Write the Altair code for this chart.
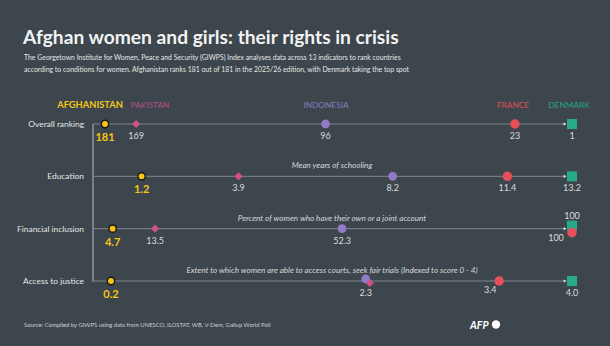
import altair as alt
import pandas as pd

# ---------------- data ----------------
countries = ["Afghanistan", "Pakistan", "Indonesia", "France", "Denmark"]
metrics = ["Overall ranking", "Education", "Financial inclusion", "Access to justice"]
overall = [181, 169, 96, 23, 1]
education = [1.2, 3.9, 8.2, 11.4, 13.2]
financial = [4.7, 13.5, 52.3, 100, 100]
justice = [0.2, 2.3, 2.3, 3.4, 4.0]
row_notes = ["", "Mean years of schooling",
             "Percent of women who have their own or a joint account",
             "Extent to which women are able to access courts, seek fair trials (Indexed to score 0 - 4)"]

colors = ["#f5c518", "#d44f8c", "#8f7cc4", "#e84f5a", "#27a98a"]
shapes = ["circle", "diamond", "circle", "circle", "square"]
sizes = [55, 100, 45, 55, 50]
header_colors = ["#f5c518", "#b94f88", "#8a7dc2", "#e0505c", "#27a38a"]

BG = "#3c464c"
FONT = "Lato"

rows = []
for m, vals in zip(metrics, [overall, education, financial, justice]):
    for c, v in zip(countries, vals):
        if m == "Overall ranking":
            lab = str(int(v))
        elif m == "Financial inclusion":
            lab = f"{v:g}"
        else:
            lab = f"{v:.1f}"
        rows.append({"metric": m, "country": c, "value": v, "label": lab})
df = pd.DataFrame(rows)
mdf = pd.DataFrame({"metric": metrics, "note": row_notes})

yenc = alt.Y("metric:N", scale=alt.Scale(type="point", domain=metrics, range=[124, 281], padding=0), axis=None)
color = alt.Color("country:N", scale=alt.Scale(domain=countries, range=colors), legend=None)
shape = alt.Shape("country:N", scale=alt.Scale(domain=countries, range=shapes), legend=None)
size = alt.Size("country:N", scale=alt.Scale(domain=countries, range=sizes), legend=None)

# pixel ranges for each row's own scale
row_scales = {
    "Overall ranking": alt.Scale(domain=[181, 1], range=[105, 572]),
    "Education": alt.Scale(domain=[0, 13.2], range=[98.6, 572]),
    "Financial inclusion": alt.Scale(domain=[0, 100], range=[90, 572]),
    "Access to justice": alt.Scale(domain=[0, 4], range=[86.7, 572]),
}

base = alt.Chart(df)

lines = alt.Chart(mdf).mark_rule(color="#7d8589", strokeWidth=1).encode(
    y=yenc, x=alt.value(93), x2=alt.value(566))
vline = alt.Chart(mdf).mark_rule(color="#7d8589", strokeWidth=1).encode(
    x=alt.value(93), y=alt.value(124), y2=alt.value(281.5))
arrows = alt.Chart(mdf).mark_point(shape="triangle-right", filled=True, color="#e8e8e8", size=10, opacity=1).encode(
    y=yenc, x=alt.value(565))
row_labels = alt.Chart(mdf).mark_text(align="right", baseline="middle", font=FONT, fontSize=8.4, color="#e6e6e6").encode(
    y=yenc, x=alt.value(84), text="metric:N")
notes = alt.Chart(mdf).mark_text(align="center", baseline="middle", font=FONT, fontStyle="italic", fontSize=8.1,
                                 color="#d8d8d8", dy=-10).encode(
    y=yenc, x=alt.value(332), text="note:N")

STROKE_W = alt.condition("datum.country == 'Afghanistan'", alt.value(1.5), alt.value(0))


def pts_layer(d, x, flt, **mk):
    return d.transform_filter(flt).mark_point(filled=True, opacity=1, stroke="#1a1a1a", **mk).encode(
        x=x, y=yenc, color=color, shape=shape, size=size, strokeWidth=STROKE_W)


def lab_layer(d, x, flt, afg=False, **mk):
    if afg:
        style = dict(font=FONT, fontWeight="bold", fontSize=11, color="#f5c518")
    else:
        style = dict(font=FONT, fontSize=9, color="#dcdcdc")
    style.update(mk)
    return d.transform_filter(flt).mark_text(**style).encode(x=x, y=yenc, text="label:N")


AFG = "datum.country == 'Afghanistan'"


def row_layer(m):
    sc = row_scales[m]
    d = base.transform_filter(alt.datum.metric == m)
    x = alt.X("value:Q", scale=sc, axis=None)
    if m == "Financial inclusion":
        pts = [pts_layer(d, x, "datum.country != 'France' && datum.country != 'Denmark'"),
               pts_layer(d, x, "datum.country == 'Denmark'", yOffset=-3),
               pts_layer(d, x, "datum.country == 'France'", yOffset=4)]
        labs = [lab_layer(d, x, AFG, afg=True, dy=14),
                lab_layer(d, x, "datum.country == 'Pakistan' || datum.country == 'Indonesia'", dy=12),
                lab_layer(d, x, "datum.country == 'Denmark'", dy=-13),
                lab_layer(d, x, "datum.country == 'France'", dy=9, dx=-16)]
    elif m == "Access to justice":
        pts = [pts_layer(d, x, "datum.country != 'Pakistan' && datum.country != 'Indonesia'"),
               pts_layer(d, x, "datum.country == 'Indonesia'", yOffset=-2),
               pts_layer(d, x, "datum.country == 'Pakistan'", xOffset=4, yOffset=2)]
        labs = [lab_layer(d, x, AFG, afg=True, dy=14),
                lab_layer(d, x, "datum.country == 'Indonesia' || datum.country == 'Denmark'", dy=12),
                lab_layer(d, x, "datum.country == 'France'", dy=9, dx=-9)]
    else:
        pts = [pts_layer(d, x, "true")]
        labs = [lab_layer(d, x, AFG, afg=True, dy=14),
                lab_layer(d, x, "datum.country != 'Afghanistan'", dy=12)]
    return alt.layer(*pts, *labs)


def txt(text, x, y, size, color="#ffffff", weight="normal", align="left", style="normal", font=FONT):
    return alt.Chart(pd.DataFrame({"t": [text]})).mark_text(
        align=align, baseline="alphabetic", font=font, fontSize=size, fontWeight=weight,
        fontStyle=style, color=color).encode(x=alt.value(x), y=alt.value(y), text="t:N")


header_x = [90, 150, 326, 513, 569]
headers = [txt(c.upper(), hx, 108, 9.3 if c == "Afghanistan" else 8.3,
               color=hc, weight="bold" if c == "Afghanistan" else "normal", align="center")
           for c, hx, hc in zip(countries, header_x, header_colors)]

title = txt("Afghan women and girls: their rights in crisis", 23, 44, 19.2, color="#f2f2f2", weight="bold")
sub1 = txt("The Georgetown Institute for Women, Peace and Security (GIWPS) Index analyses data across 13 indicators to rank countries",
           24, 60, 6.9, color="#e6e6e6")
sub2 = txt("according to conditions for women. Afghanistan ranks 181 out of 181 in the 2025/26 edition, with Denmark taking the top spot",
           24, 72, 6.9, color="#e6e6e6")
source = txt("Source: Compiled by GIWPS using data from UNESCO, ILOSTAT, WB, V-Dem, Gallup World Poll",
             24, 327, 5.9, color="#cfcfcf")
afp = txt("AFP", 470, 328.5, 10.5, color="#ffffff", weight="bold", style="italic")
afp_dot = alt.Chart(pd.DataFrame({"t": ["AFP"]})).mark_point(filled=True, color="#ffffff", opacity=1, size=70).encode(
    x=alt.value(496), y=alt.value(324.5))

chart = alt.layer(
    lines, vline, arrows, row_labels, notes,
    *[row_layer(m) for m in metrics],
    *headers, title, sub1, sub2, source, afp, afp_dot,
).resolve_scale(x="independent").properties(
    width=610, height=346, background=BG, padding=0,
    autosize=alt.AutoSizeParams(type="none"),
).configure_view(stroke=None)

chart.save("out.html", embed_options={"renderer": "svg", "actions": False})
